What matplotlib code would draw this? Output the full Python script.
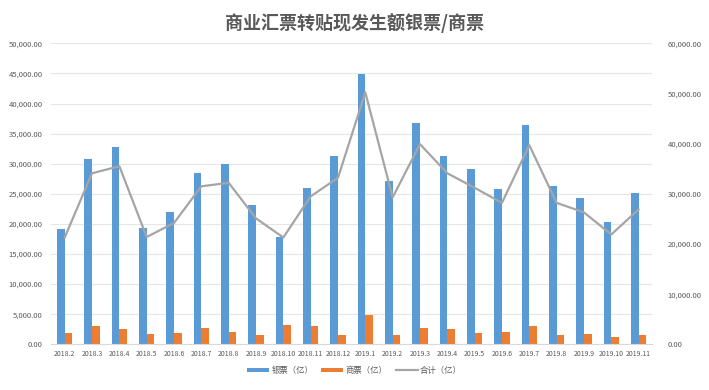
import matplotlib.pyplot as plt
import numpy as np
from matplotlib.ticker import FuncFormatter

plt.rcParams['font.family'] = ['Noto Sans CJK SC', 'DejaVu Sans']

months = ['2018.2', '2018.3', '2018.4', '2018.5', '2018.6', '2018.7', '2018.8',
          '2018.9', '2018.10', '2018.11', '2018.12', '2019.1', '2019.2', '2019.3',
          '2019.4', '2019.5', '2019.6', '2019.7', '2019.8', '2019.9', '2019.10',
          '2019.11']
bank = [19200, 30800, 32800, 19300, 22000, 28500, 29900, 23100, 17800, 26000,
        31200, 44900, 27200, 36800, 31200, 29100, 25800, 36400, 26300, 24300,
        20300, 25100]
comm = [1950, 3050, 2500, 1800, 1950, 2750, 2050, 1600, 3150, 3050,
        1600, 4900, 1500, 2800, 2550, 1900, 2050, 3050, 1600, 1800,
        1200, 1600]
total = [21300, 34100, 35500, 21400, 24200, 31500, 32200, 25100, 21300, 29500,
         33200, 50200, 29300, 39900, 34100, 31200, 28200, 39700, 28200, 26300,
         21900, 26900]

c_blue = '#5B9BD5'
c_orange = '#ED7D31'
c_gray = '#A5A5A5'
c_text = '#595959'

fig = plt.figure(figsize=(7.09, 3.9), dpi=100)
ax = fig.add_axes([0.072, 0.117, 0.848, 0.772])
ax2 = ax.twinx()

x = np.arange(len(months))
w = 0.28
ax.bar(x - w / 2, bank, w, color=c_blue, label='银票（亿）', zorder=2)
ax.bar(x + w / 2, comm, w, color=c_orange, label='商票（亿）', zorder=2)
ax2.plot(x, total, color=c_gray, lw=1.6, label='合计（亿）')

fmt = FuncFormatter(lambda v, p: f'{v:,.2f}')
ax.set_ylim(0, 50000)
ax.set_yticks(np.arange(0, 50001, 5000))
ax.yaxis.set_major_formatter(fmt)
ax2.set_ylim(0, 60000)
ax2.set_yticks(np.arange(0, 60001, 10000))
ax2.yaxis.set_major_formatter(fmt)

ax.set_xlim(-0.5, len(months) - 0.5)
ax.set_xticks(x)
ax.set_xticklabels(months)

ax.grid(axis='y', color='#E6E6E6', lw=0.8, zorder=0)
ax.set_axisbelow(True)
for a in (ax, ax2):
    for s in a.spines.values():
        s.set_visible(False)
    a.tick_params(length=0, labelsize=5.5, labelcolor=c_text)
ax.spines['bottom'].set_visible(True)
ax.spines['bottom'].set_color('#D9D9D9')
ax.tick_params(axis='x', pad=4, labelsize=5)
ax.tick_params(axis='y', pad=6)
ax2.tick_params(axis='y', pad=11)

fig.text(0.5, 0.94, '商业汇票转贴现发生额银票/商票', ha='center', va='center',
         fontsize=13, color=c_text, fontweight='bold')

h1, l1 = ax.get_legend_handles_labels()
h2, l2 = ax2.get_legend_handles_labels()
fig.legend(h1 + h2, l1 + l2, loc='center', bbox_to_anchor=(0.5, 0.05), ncol=3,
           frameon=False, fontsize=6, labelcolor=c_text, handlelength=2.6,
           handleheight=0.5, columnspacing=1.0, handletextpad=0.3)

fig.savefig('out.png', dpi=100)
